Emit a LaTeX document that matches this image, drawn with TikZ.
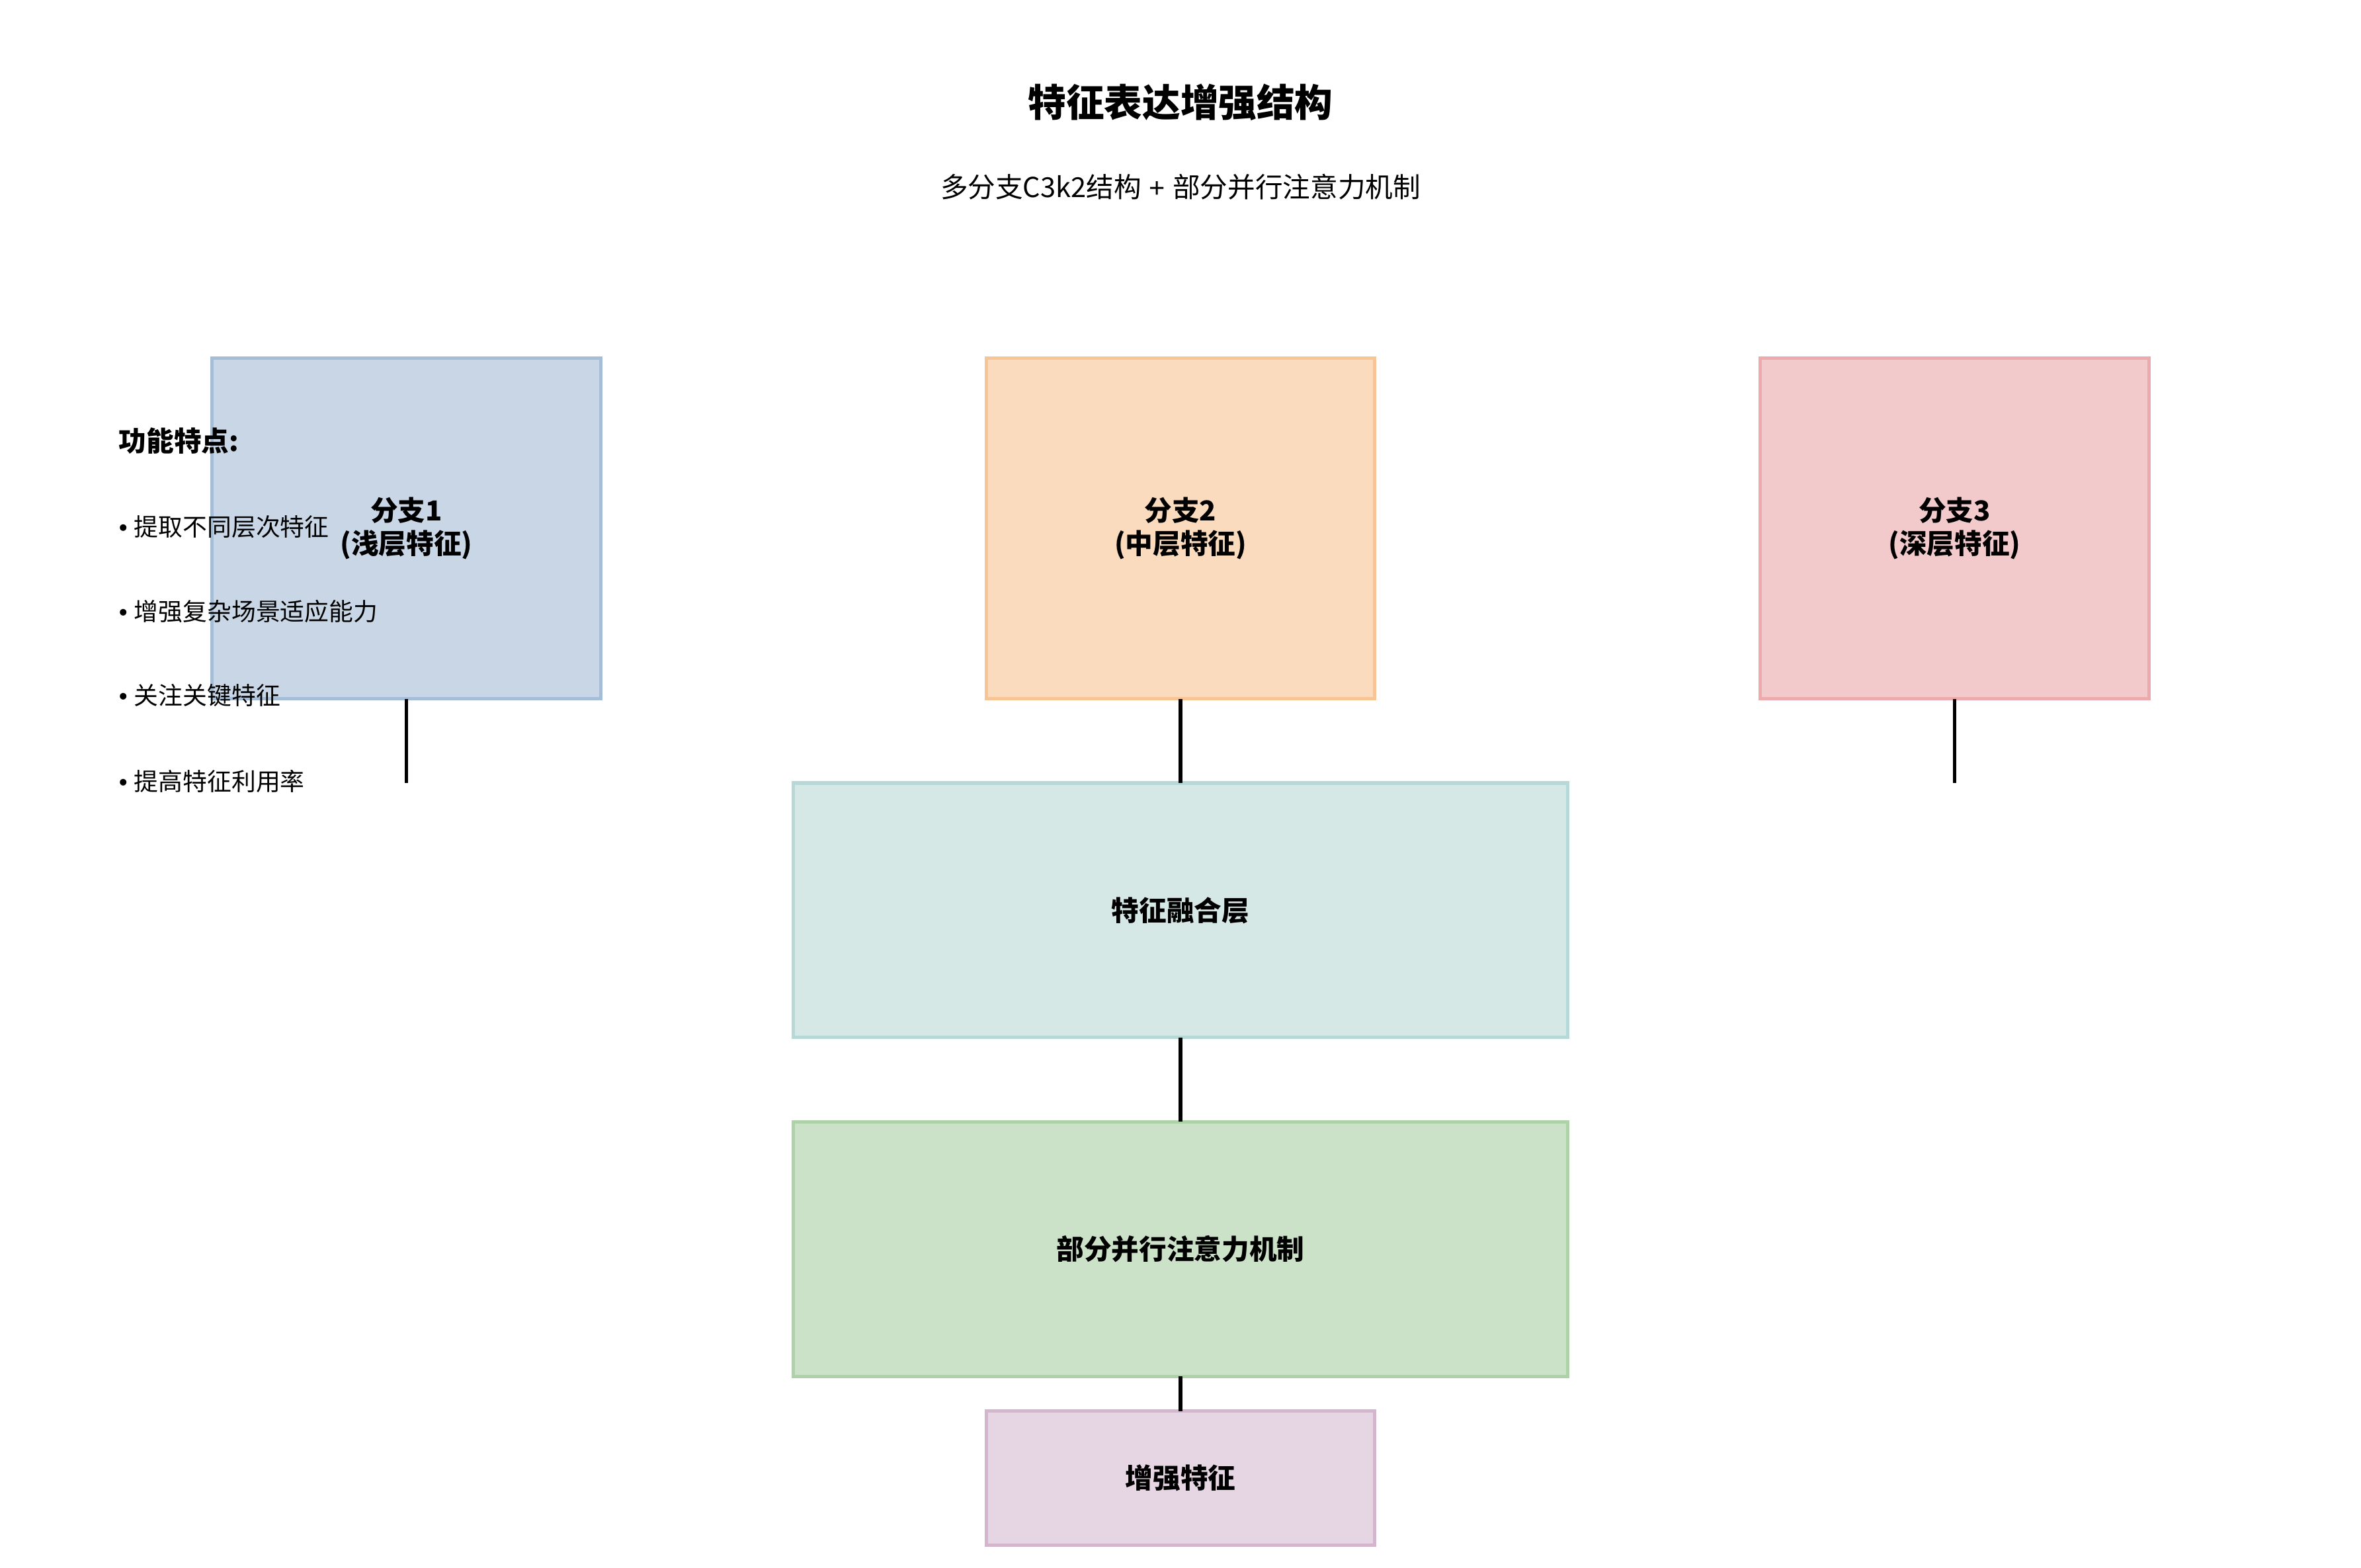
\documentclass[tikz,border=0pt]{standalone}
\usepackage{fontspec}
\setmainfont{Noto Sans CJK SC}
\newfontfamily\latinfont{Liberation Sans}
\usepackage{tikz}
\usetikzlibrary{positioning}
\definecolor{shallowfill}{RGB}{200,214,229}
\definecolor{shallowline}{RGB}{166,189,215}
\definecolor{middlefill}{RGB}{250,219,189}
\definecolor{middleline}{RGB}{247,196,150}
\definecolor{deepfill}{RGB}{243,202,203}
\definecolor{deepline}{RGB}{237,170,173}
\definecolor{fusefill}{RGB}{213,232,230}
\definecolor{fuseline}{RGB}{182,216,214}
\definecolor{attnfill}{RGB}{204,226,200}
\definecolor{attnline}{RGB}{174,210,168}
\definecolor{outfill}{RGB}{230,213,226}
\definecolor{outline}{RGB}{212,181,206}

\begin{document}
\begin{tikzpicture}[
    x=0.025cm, y=-0.025cm,
    every node/.style={font=\fontsize{13}{15.6}\selectfont},
    box/.style={draw, line width=1.6pt, outer sep=0pt, align=center, font=\fontsize{13}{15.6}\selectfont\bfseries},
    branch/.style={box, minimum width=6.45cm, minimum height=5.65cm},
    wide/.style={box, minimum width=12.85cm, minimum height=4.225cm},
    link/.style={line width=1.8pt}
  ]
    \useasboundingbox (0,0) rectangle (1568,1041);

    \node[font=\fontsize{18}{21}\selectfont\bfseries] (title) at (784,68) {特征表达增强结构};
    \node (subtitle) at (784,124) {多分支C3k2结构{\latinfont\ +\ }部分并行注意力机制};

    \node[branch, fill=middlefill, draw=middleline] (mid) at (784,351) {分支2\\(中层特征)};
    \node[branch, fill=shallowfill, draw=shallowline, left=6.4cm of mid] (shallow) {分支1\\(浅层特征)};
    \node[branch, fill=deepfill, draw=deepline, right=6.4cm of mid] (deep) {分支3\\(深层特征)};
    \node[wide, fill=fusefill, draw=fuseline, below=1.4cm of mid] (fuse) {特征融合层};
    \node[wide, fill=attnfill, draw=attnline, below=1.4cm of fuse] (attn) {部分并行注意力机制};
    \node[box, fill=outfill, draw=outline, minimum width=6.45cm, minimum height=2.225cm, below=0.575cm of attn] (out) {增强特征};

    \coordinate[below=1.4cm of shallow] (shallowend);
    \coordinate[below=1.4cm of deep] (deepend);

    \draw[link] (shallow.south) -- (shallowend);
    \draw[link] (mid) -- (fuse);
    \draw[link] (deep.south) -- (deepend);
    \draw[link] (fuse) -- (attn);
    \draw[link] (attn) -- (out);

    % side notes
    \node[anchor=west, font=\fontsize{13}{15.6}\selectfont\bfseries] (notes) at (74,293) {功能特点:};
    \foreach \i/\txt [count=\n] in {350/提取不同层次特征, 406/增强复杂场景适应能力, 462/关注关键特征, 519/提高特征利用率}
      \node[anchor=west, font=\fontsize{11.5}{14}\selectfont] (note\n) at (74,\i) {{\latinfont •\ }\txt};
  \end{tikzpicture}
\end{document}
